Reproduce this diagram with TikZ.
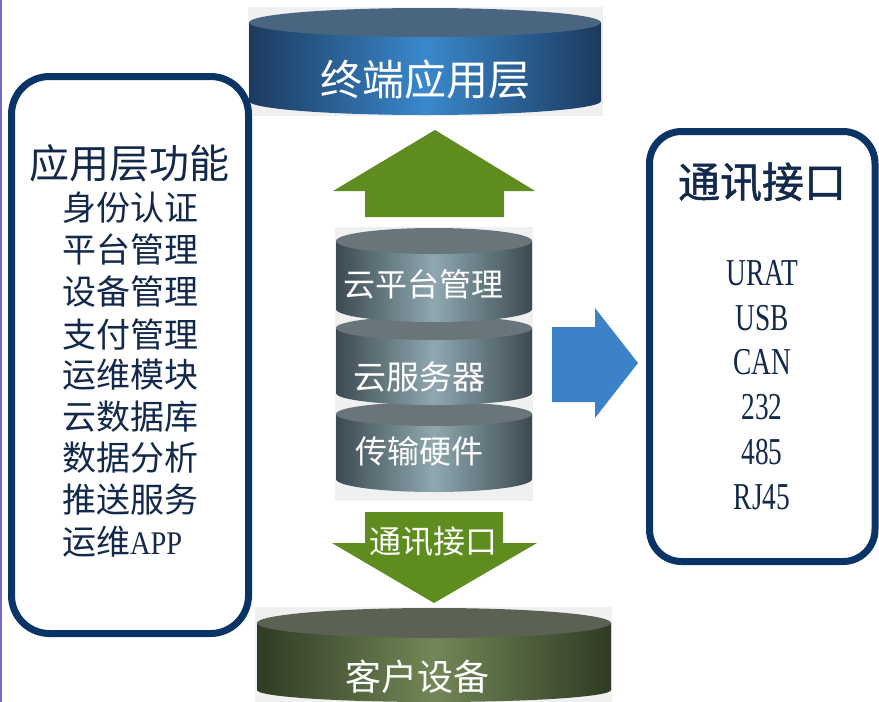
\documentclass[tikz,border=0pt]{standalone}
\usepackage{fontspec}
\setmainfont{Noto Sans CJK SC}
\newfontfamily\cjkbold[FakeBold=1.2]{Noto Sans CJK SC}
\newfontfamily\nserif[FakeStretch=0.72]{Liberation Serif}
\newfontfamily\aserif[FakeStretch=0.86]{Liberation Serif}
\definecolor{navy}{HTML}{0B3466}
\definecolor{txt}{HTML}{13294B}
\definecolor{bggray}{HTML}{F0F0F0}
\definecolor{topdark}{HTML}{1C3A5E}
\definecolor{topmid}{HTML}{3A88CC}
\definecolor{topcap}{HTML}{4A6580}
\definecolor{stkdark}{HTML}{3C4A52}
\definecolor{stkmid}{HTML}{8FA8B0}
\definecolor{stkcap}{HTML}{69757B}
\definecolor{botdark}{HTML}{2F3B24}
\definecolor{botmid}{HTML}{728757}
\definecolor{botcap}{HTML}{5B6253}
\definecolor{arrgreen}{HTML}{5F8C1F}
\definecolor{arrblue}{HTML}{3B82C8}
\definecolor{edgepurple}{HTML}{7A66C8}
\tikzset{
  boxline/.style={draw=navy,line width=7pt},
  wtext/.style={text=white,inner sep=0pt},
  ltext/.style={text=txt,inner sep=0pt,anchor=west,font=\fontsize{34}{34}\selectfont},
  rtext/.style={text=txt,inner sep=0pt,font=\fontsize{38}{38}\nserif},
}
\begin{document}
\begin{tikzpicture}[x=1pt,y=1pt]
\useasboundingbox (0,0) rectangle (879,-702);
\fill[white] (0,0) rectangle (879,-702);
\draw[edgepurple,line width=1.5pt] (0.75,0) -- (0.75,-702);

% top cylinder
\fill[bggray] (248,-7) rectangle (603,-116);
\shade[left color=topdark,right color=topdark,middle color=topmid]
  (249,-22.5) -- (249,-101) arc[start angle=180,end angle=360,x radius=176,y radius=14] -- (601,-22.5) -- cycle;
\fill[topcap] (425,-22.5) ellipse[x radius=176,y radius=14.5];
\node[wtext,font=\fontsize{42}{42}\selectfont] (term) at (425,-80) {终端应用层};

% up arrow
\fill[arrgreen] (435,-130) -- (535,-191) -- (504,-191) -- (504,-217) -- (365,-217) -- (365,-191) -- (333,-191) -- cycle;
\coordinate (uparrow) at (435,-175);

% stack
\fill[bggray] (335,-227) rectangle (533,-501);
% cyl3
\shade[left color=stkdark,right color=stkdark,middle color=stkmid]
  (336,-414) -- (336,-479) arc[start angle=180,end angle=360,x radius=98,y radius=13] -- (532,-414) -- cycle;
\fill[stkcap] (434,-414) ellipse[x radius=98,y radius=12];
% cyl2
\shade[left color=stkdark,right color=stkdark,middle color=stkmid]
  (336,-328) -- (336,-393) arc[start angle=180,end angle=360,x radius=98,y radius=12] -- (532,-328) -- cycle;
\fill[stkcap] (434,-328) ellipse[x radius=98,y radius=12];
% cyl1
\shade[left color=stkdark,right color=stkdark,middle color=stkmid]
  (336,-241) -- (336,-309) arc[start angle=180,end angle=360,x radius=98,y radius=13] -- (532,-241) -- cycle;
\fill[stkcap] (434,-241) ellipse[x radius=98,y radius=13];
\node[wtext,font=\fontsize{32}{32}\selectfont] (cloudmgmt) at (423,-284) {云平台管理};
\node[wtext,font=\fontsize{33}{33}\selectfont] (server) at (419,-377) {云服务器};
\node[wtext,font=\fontsize{32}{32}\selectfont] (hw) at (419,-451) {传输硬件};

% down arrow
\fill[arrgreen] (365,-512) -- (503,-512) -- (503,-543) -- (537,-543) -- (434,-603) -- (332,-543) -- (365,-543) -- cycle;
\node[wtext,font=\fontsize{32}{32}\selectfont] (comm) at (433,-542) {通讯接口};

% bottom cylinder
\fill[bggray] (255,-607) rectangle (612,-702);
\shade[left color=botdark,right color=botdark,middle color=botmid]
  (257,-623) -- (257,-690) arc[start angle=180,end angle=360,x radius=177,y radius=12] -- (611,-623) -- cycle;
\fill[botcap] (434,-623) ellipse[x radius=177,y radius=15];
\node[wtext,font=\fontsize{36}{36}\selectfont] (client) at (417,-677) {客户设备};

% blue arrow
\fill[arrblue] (552,-327) -- (595,-327) -- (595,-308) -- (638,-363) -- (595,-418) -- (595,-402) -- (552,-402) -- cycle;

% left box
\draw[boxline,rounded corners=38pt] (11.5,-76.5) rectangle (248.5,-633.5);
\node[text=txt,inner sep=0pt,font=\fontsize{40}{40}\selectfont] (ltitle) at (130,-163) {应用层功能};
\node[ltext] (l1) at (62,-208) {身份认证};
\node[ltext] (l2) at (62,-250) {平台管理};
\node[ltext] (l3) at (62,-292) {设备管理};
\node[ltext] (l4) at (62,-335) {支付管理};
\node[ltext] (l5) at (62,-375) {运维模块};
\node[ltext] (l6) at (62,-417) {云数据库};
\node[ltext] (l7) at (62,-458) {数据分析};
\node[ltext] (l8) at (62,-500) {推送服务};
\node[ltext] (l9) at (62,-542) {运维{\fontsize{33}{33}\aserif APP}};

% right box
\draw[boxline,rounded corners=32pt] (649.5,-131.5) rectangle (875,-561.5);
\node[text=txt,inner sep=0pt,font=\fontsize{42}{42}\cjkbold] (rtitle) at (762,-182) {通讯接口};
\node[rtext] (r1) at (762,-273) {URAT};
\node[rtext] (r2) at (762,-318) {USB};
\node[rtext] (r3) at (762,-362) {CAN};
\node[rtext] (r4) at (762,-407) {232};
\node[rtext] (r5) at (762,-452) {485};
\node[rtext] (r6) at (762,-497) {RJ45};
\end{tikzpicture}
\end{document}
